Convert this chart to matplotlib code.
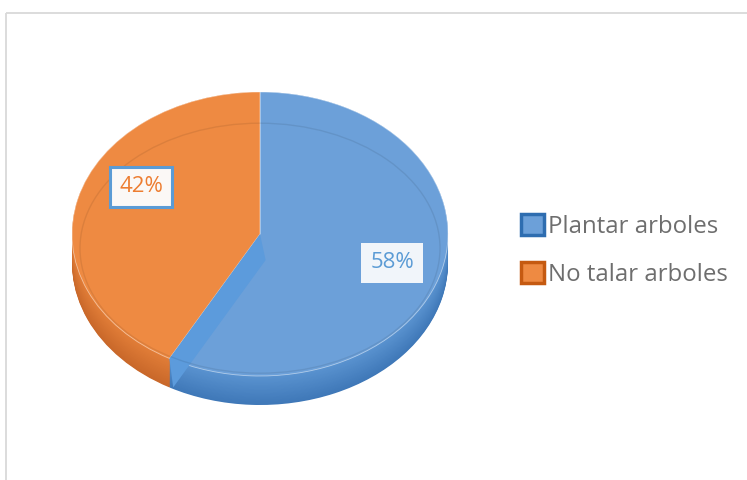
import matplotlib
matplotlib.use('Agg')
import matplotlib.pyplot as plt
import matplotlib.patches as mpatches
import numpy as np

categories = ['Plantar arboles', 'No talar arboles']
values = [58, 42]
pct_labels = ['58%', '42%']

top_colors = ['#6CA0D9', '#EE8A42']
side_dark = ['#3F78B8', '#C9682A']
side_light = ['#5A93D0', '#E27E38']
legend_edge = ['#2E6DB0', '#C55A11']
label_colors = ['#5B9BD5', '#ED7D31']

FONT = ['Open Sans', 'DejaVu Sans']
plt.rcParams['font.family'] = FONT

W, H = 747, 480
fig = plt.figure(figsize=(W / 100, H / 100), dpi=100)
fig.patch.set_facecolor('white')

bg = fig.add_axes([0, 0, 1, 1])
bg.set_xlim(0, W)
bg.set_ylim(H, 0)
bg.axis('off')
bg.plot([5.5, 5.5], [H, 12.5], color='#D9D9D9', lw=1.3, solid_capstyle='butt')
bg.plot([5.5, W], [12.5, 12.5], color='#D9D9D9', lw=1.3, solid_capstyle='butt')

# pie geometry (pixels)
cx, cy, rx, ry = 260, 234, 188, 142
thick = 29

ax = fig.add_axes([(cx - rx) / W, (H - cy - ry) / H, 2 * rx / W, 2 * ry / H])
ax.set_zorder(1)
t_units = thick / ry

def mix(c1, c2, f):
    a = np.array(matplotlib.colors.to_rgb(c1))
    b = np.array(matplotlib.colors.to_rgb(c2))
    return tuple(a * (1 - f) + b * f)

n = 36
for k, off in enumerate(np.linspace(t_units, 0, n)):
    f = k / (n - 1)
    cols = [mix(side_dark[i], side_light[i], f) for i in range(len(values))]
    wedges, _ = ax.pie(values, colors=cols, startangle=90, counterclock=False,
                       center=(0, -off), radius=1, wedgeprops=dict(linewidth=0))
    for w in wedges:
        w.set_clip_on(False)

top_wedges, _ = ax.pie(values, colors=top_colors, startangle=90, counterclock=False,
                       center=(0, 0), radius=1,
                       wedgeprops=dict(linewidth=0.6, edgecolor='#FFFFFF80'))
for w in top_wedges:
    w.set_clip_on(False)

# radial cut face of first slice (visible through perspective)
theta_b = np.deg2rad(90 - 360 * values[0] / sum(values))
P = np.array([np.cos(theta_b), np.sin(theta_b)])
face = mpatches.Polygon([(0, 0), tuple(P), (P[0] + 0.02, P[1] - t_units),
                         (0.03, -t_units * 0.9)], closed=True,
                        facecolor='#5C9BDC', edgecolor='none', clip_on=False, zorder=3)
ax.add_patch(face)

# bevel line on top surface
bevel = mpatches.Ellipse((0, -0.1), 2 * 180 / rx, 2 * 125 / ry, fill=False,
                         edgecolor=(0, 0, 0, 0.08), lw=1.0, clip_on=False, zorder=4)
ax.add_patch(bevel)

ax.set_xlim(-1, 1)
ax.set_ylim(-1, 1)
ax.set_aspect('auto')
ax.axis('off')

# overlay for data labels (above the pie)
ov = fig.add_axes([0, 0, 1, 1])
ov.set_zorder(2)
ov.set_xlim(0, W)
ov.set_ylim(H, 0)
ov.axis('off')

label_pos = [(392, 263), (141, 187)]
for i, (x, y) in enumerate(label_pos):
    if i == 1:
        bbox = dict(boxstyle='square,pad=0.42', facecolor='#FBF8F6', edgecolor='#5B9BD5', lw=2.2)
    else:
        bbox = dict(boxstyle='square,pad=0.42', facecolor='#F1F5FA', edgecolor='none')
    ov.text(x, y, pct_labels[i], color=label_colors[i], fontsize=16, ha='center', va='center',
            bbox=bbox, zorder=10)

handles = [mpatches.Patch(facecolor=top_colors[i], edgecolor=legend_edge[i], lw=2.5)
           for i in range(len(values))]
leg = fig.legend(handles, categories, loc='upper left', bbox_to_anchor=(521 / W, 1 - 214 / H),
                 frameon=False, fontsize=17.3, handlelength=0.95, handleheight=0.95,
                 handletextpad=0.18, labelspacing=0.97, borderpad=0, borderaxespad=0)
for t in leg.get_texts():
    t.set_color('#6E6E6E')

fig.savefig('out.png', dpi=100, facecolor='white')
